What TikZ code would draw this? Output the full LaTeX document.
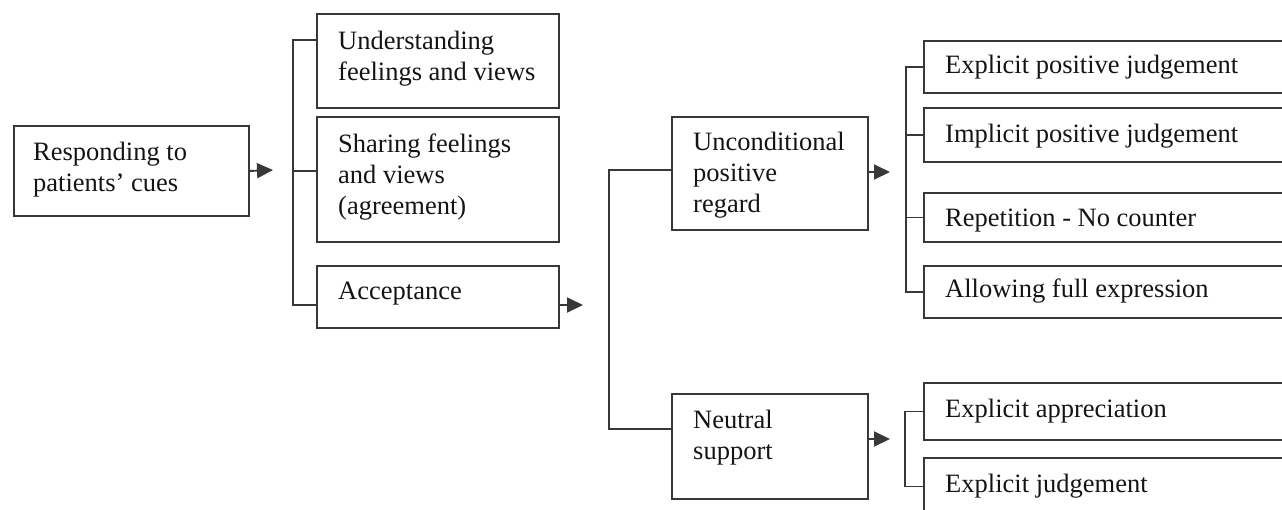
\documentclass[tikz,border=0pt]{standalone}
\usepackage{fontspec}
\setmainfont{Liberation Serif}
\usetikzlibrary{arrows.meta}
\begin{document}
\begin{tikzpicture}[x=1pt,y=-1pt,
  frame/.style={draw=black!78, line width=1.9pt, anchor=north west, inner sep=0pt},
  caption/.style={anchor=north west, inner sep=0pt, align=left,
    font=\fontsize{26.5}{31}\selectfont, text=black!92},
  link/.style={draw=black!78, line width=1.9pt, line join=miter},
  arr/.style={link, -{Triangle[length=16pt,width=15pt]}}]
\useasboundingbox (0,0) rectangle (1282,509);

% first level
\node[frame, minimum width=235pt, minimum height=90pt] (cues) at (13,125) {};
\node[caption] (cuesT) at (33,141.5) {Responding to\\patients’ cues};

% second level
\node[frame, minimum width=242pt, minimum height=94pt]  (und) at (316,13) {};
\node[frame, minimum width=242pt, minimum height=125pt] (sha) at (316,116) {};
\node[frame, minimum width=242pt, minimum height=62pt]  (acc) at (316,265) {};
\node[caption] (undT) at (338,30.5)  {Understanding\\feelings and views};
\node[caption] (shaT) at (338,133.5) {Sharing feelings\\and views\\(agreement)};
\node[caption] (accT) at (338,281.5) {Acceptance};

% third level
\node[frame, minimum width=196pt, minimum height=113pt] (upr) at (671,116) {};
\node[frame, minimum width=196pt, minimum height=105pt] (neu) at (671,393) {};
\node[caption] (uprT) at (693,131.5) {Unconditional\\positive\\regard};
\node[caption] (neuT) at (693,409.5) {Neutral\\support};

% fourth level (boxes run past the right edge)
\node[frame, minimum width=400pt, minimum height=52pt] (r1) at (923,40) {};
\node[frame, minimum width=400pt, minimum height=54pt] (r2) at (923,107) {};
\node[frame, minimum width=400pt, minimum height=49pt] (r3) at (923,192) {};
\node[frame, minimum width=400pt, minimum height=52pt] (r4) at (923,265) {};
\node[frame, minimum width=400pt, minimum height=57pt] (r5) at (923,382) {};
\node[frame, minimum width=400pt, minimum height=57pt] (r6) at (923,457) {};
\node[caption] (r1T) at (945,54.5)  {Explicit positive judgement};
\node[caption] (r2T) at (945,123.5) {Implicit positive judgement};
\node[caption] (r3T) at (945,208.5) {Repetition - No counter};
\node[caption] (r4T) at (945,278.5) {Allowing full expression};
\node[caption] (r5T) at (945,398.5) {Explicit appreciation};
\node[caption] (r6T) at (945,473.5) {Explicit judgement};

% bracket spines and arrow tips
\coordinate (v1) at (293,0);
\coordinate (v2) at (609,0);
\coordinate (v3) at (906,0);
\coordinate (v4) at (905,0);
\coordinate (tipCues) at (273,170);
\coordinate (tipAcc)  at (583,305);
\coordinate (tipUpr)  at (890,172);
\coordinate (tipNeu)  at (890,439);

% arrows out of boxes
\draw[arr] (cues.east) -- (tipCues);
\draw[arr] (acc.east |- tipAcc) -- (tipAcc);
\draw[arr] (upr.east |- tipUpr) -- (tipUpr);
\draw[arr] (neu.east |- tipNeu) -- (tipNeu);

% bracket feeding the second level
\coordinate (s1) at ([yshift=-27pt]und.north west);
\coordinate (s2) at ([yshift=-55pt]sha.north west);
\coordinate (s3) at ([yshift=-40pt]acc.north west);
\draw[link] (s1) -| (v1 |- s3) -- (s3);
\draw[link] (s2) -- (v1 |- s2);

% bracket feeding the third level
\coordinate (s4) at ([yshift=-54pt]upr.north west);
\coordinate (s5) at ([yshift=-36pt]neu.north west);
\draw[link] (s4) -| (v2 |- s5) -- (s5);

% brackets feeding the fourth level
\draw[link] (r1.west) -| (v3 |- r4.west) -- (r4.west);
\draw[link] (r2.west) -- (v3 |- r2.west);
\draw[link] (r3.west) -- (v3 |- r3.west);
\draw[link] (r5.west) -| (v4 |- r6.west) -- (r6.west);
\end{tikzpicture}
\end{document}
